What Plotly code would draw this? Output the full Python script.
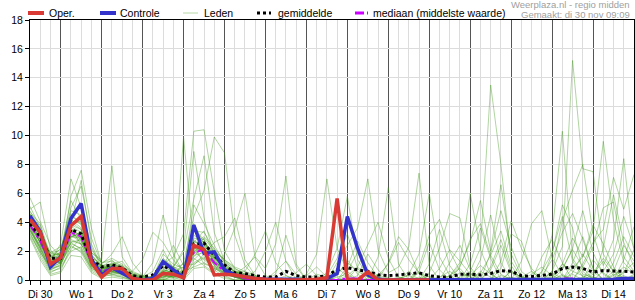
import plotly.graph_objects as go
import pandas as pd

# ---------------- data ----------------
times = pd.date_range("2021-11-30 06:00", periods=60, freq="6h")
x_end = "2021-12-15 00:00"
day_labels = ["Di 30", "Wo 1", "Do 2", "Vr 3", "Za 4", "Zo 5", "Ma 6", "Di 7",
              "Wo 8", "Do 9", "Vr 10", "Za 11", "Zo 12", "Ma 13", "Di 14"]
label_times = pd.date_range("2021-11-30 12:00", periods=15, freq="D")
day_lines = pd.date_range("2021-12-01 00:00", periods=14, freq="D")
grid_6h = [t for t in pd.date_range("2021-11-30 06:00", x_end, freq="6h") if t.hour != 0]

oper = [4.2, 3.3, 1.1, 1.55, 3.75, 4.4, 1.25, 0.2, 0.8, 0.8,
        0.1, 0.0, 0.0, 0.45, 0.4, 0.15, 2.4, 2.1, 0.35, 0.4,
        0.35, 0.23, 0.1, 0.05, 0.0, 0.0, 0.0, 0.0, 0.05, 0.15,
        5.65, 0.0, 0.0, 0.55, 0.0, 0.0, 0.0, 0.0, 0.0, 0.0]

controle = [4.45, 3.35, 0.9, 1.6, 4.25, 5.3, 1.4, 0.35, 0.85, 0.5,
            0.1, 0.0, 0.1, 1.27, 0.7, 0.15, 3.8, 1.85, 1.95, 0.7,
            0.35, 0.2, 0.1, 0.05, 0.05, 0.1, 0.05, 0.0, 0.0, 0.1,
            0.45, 4.4, 2.2, 0.35, 0.05, 0.0, 0.0, 0.0, 0.05, 0.05,
            0.0, 0.0, 0.0, 0.0, 0.0, 0.0, 0.0, 0.0, 0.0, 0.0,
            0.0, 0.05, 0.05, 0.0, 0.0, 0.0, 0.0, 0.05, 0.1, 0.1]

gemiddelde = [3.9, 3.0, 1.5, 1.5, 3.5, 3.2, 1.4, 0.9, 1.05, 0.85,
              0.3, 0.2, 0.35, 1.0, 0.6, 0.5, 2.5, 2.55, 1.7, 1.05,
              0.5, 0.45, 0.3, 0.2, 0.2, 0.6, 0.3, 0.2, 0.2, 0.3,
              0.7, 0.85, 0.7, 0.6, 0.35, 0.3, 0.35, 0.4, 0.5, 0.3,
              0.2, 0.2, 0.4, 0.4, 0.35, 0.45, 0.65, 0.6, 0.3, 0.25,
              0.3, 0.4, 0.8, 0.9, 0.8, 0.55, 0.65, 0.65, 0.6, 0.55]

mediaan = [3.8, 2.7, 1.2, 1.4, 3.3, 3.0, 1.2, 0.6, 0.8, 0.6,
           0.1, 0.0, 0.0, 0.5, 0.4, 0.3, 1.9, 2.1, 1.2, 0.6,
           0.3, 0.1, 0.0, 0.0, 0.0, 0.0, 0.0, 0.0, 0.0, 0.0,
           0.0, 0.1, 0.1, 0.0, 0.0, 0.0, 0.0, 0.0, 0.0, 0.0,
           0.0, 0.0, 0.0, 0.0, 0.0, 0.0, 0.0, 0.0, 0.0, 0.0,
           0.0, 0.0, 0.1, 0.1, 0.0, 0.0, 0.0, 0.0, 0.0, 0.0]

lid_01 = [4.5, 3.0, 1.2, 1.8, 4.6, 3.8, 1.6, 0.6, 1.0, 0.8,
          0.2, 0.0, 0.0, 0.6, 0.3, 0.2, 3.5, 2.8, 1.2, 0.6,
          0.3, 0.2, 0.1, 0.0, 0.0, 0.3, 0.0, 0.0, 0.0, 0.1,
          0.4, 1.2, 0.6, 0.2, 0.0, 0.0, 0.1, 0.3, 0.0, 0.0,
          0.0, 0.0, 0.2, 0.5, 0.0, 0.0, 0.3, 0.1, 0.0, 0.0,
          0.0, 0.2, 1.1, 0.6, 0.3, 0.0, 0.0, 0.4, 0.2, 0.0]
lid_02 = [3.6, 2.2, 0.8, 1.2, 2.8, 2.5, 0.9, 0.3, 0.5, 0.4,
          0.0, 0.0, 0.3, 1.5, 0.9, 0.4, 1.8, 2.2, 1.0, 0.4,
          0.2, 0.0, 0.0, 0.0, 0.1, 0.0, 0.0, 0.0, 0.4, 0.2,
          0.0, 0.0, 0.3, 1.8, 0.7, 0.0, 0.0, 0.0, 0.5, 0.2,
          0.0, 0.0, 0.0, 0.0, 0.6, 0.2, 0.0, 0.0, 0.0, 0.4,
          0.9, 0.3, 0.0, 0.0, 0.2, 0.5, 1.5, 0.6, 0.0, 0.0]
lid_03 = [5.7, 4.1, 2.4, 1.6, 3.9, 6.9, 2.5, 0.9, 1.4, 0.6,
          0.3, 0.2, 0.1, 0.4, 0.2, 0.6, 5.2, 3.9, 2.4, 1.2,
          0.5, 0.3, 0.0, 0.0, 0.0, 0.0, 0.2, 0.0, 0.0, 0.0,
          0.0, 0.6, 1.9, 0.5, 0.0, 0.2, 0.0, 0.0, 0.0, 0.3,
          0.0, 0.1, 0.0, 0.0, 0.0, 0.9, 2.8, 0.7, 0.0, 0.0,
          0.0, 0.0, 0.3, 0.0, 0.0, 0.0, 0.0, 0.0, 0.0, 0.4]
lid_04 = [4.0, 2.6, 1.1, 2.0, 5.5, 4.2, 1.8, 0.9, 0.7, 0.5,
          0.1, 0.0, 0.2, 1.1, 1.6, 3.2, 10.3, 10.4, 6.1, 2.0,
          0.8, 0.4, 0.2, 0.0, 0.0, 0.0, 0.0, 0.1, 0.0, 0.0,
          0.8, 0.3, 0.0, 0.0, 0.0, 0.0, 0.0, 0.0, 0.2, 0.0,
          0.0, 0.0, 0.0, 0.3, 1.0, 0.4, 0.0, 0.0, 0.0, 0.0,
          0.0, 0.5, 0.1, 0.0, 0.0, 0.2, 0.0, 0.0, 0.0, 0.3]
lid_05 = [3.3, 1.8, 0.5, 0.9, 2.1, 3.0, 1.2, 0.4, 0.3, 0.2,
          0.0, 0.0, 0.0, 0.2, 0.5, 9.9, 2.4, 1.1, 0.9, 0.3,
          0.0, 0.0, 0.0, 0.0, 0.6, 1.3, 0.4, 0.0, 0.0, 0.0,
          0.0, 0.0, 0.0, 0.0, 0.4, 0.0, 0.0, 0.6, 0.0, 0.0,
          0.0, 0.3, 0.8, 0.0, 0.0, 0.0, 0.0, 0.0, 0.0, 0.0,
          0.0, 0.3, 0.8, 2.1, 0.9, 0.0, 0.0, 0.0, 0.6, 1.2]
lid_06 = [4.8, 3.5, 1.6, 1.1, 3.0, 3.3, 1.0, 0.7, 1.1, 1.3,
          0.4, 0.1, 0.0, 0.0, 0.3, 1.2, 4.4, 6.2, 9.9, 8.8,
          3.1, 1.0, 0.2, 0.0, 0.0, 0.0, 0.0, 0.0, 0.0, 0.0,
          0.0, 0.0, 0.0, 0.7, 0.2, 0.0, 0.0, 0.0, 0.0, 0.0,
          0.0, 0.0, 0.5, 0.2, 0.0, 0.0, 0.0, 0.6, 0.2, 0.0,
          0.0, 0.0, 0.0, 0.0, 0.0, 0.0, 0.0, 0.3, 0.9, 0.4]
lid_07 = [3.9, 2.9, 1.9, 2.3, 3.6, 2.4, 1.9, 1.4, 7.9, 1.6,
          0.5, 0.2, 0.6, 2.1, 0.8, 0.3, 1.2, 1.6, 0.7, 0.2,
          0.0, 0.0, 0.0, 0.0, 0.0, 0.0, 0.0, 0.3, 0.9, 0.2,
          0.0, 0.0, 0.0, 0.0, 0.0, 0.0, 0.0, 0.0, 0.0, 0.0,
          0.2, 0.6, 0.1, 0.0, 0.0, 0.0, 0.0, 0.0, 0.2, 0.6,
          0.0, 0.0, 0.0, 0.0, 0.0, 1.4, 0.5, 0.0, 0.0, 0.0]
lid_08 = [4.3, 3.8, 1.4, 1.3, 5.8, 7.6, 3.6, 1.1, 0.6, 0.4,
          0.1, 0.0, 0.0, 0.4, 0.6, 0.2, 2.0, 1.4, 0.8, 0.5,
          0.2, 0.1, 0.0, 0.0, 0.0, 0.0, 0.0, 0.0, 0.0, 0.0,
          0.2, 0.4, 0.0, 0.0, 0.0, 0.0, 0.0, 0.0, 0.0, 0.0,
          0.0, 0.0, 0.0, 0.0, 0.0, 0.0, 0.0, 0.2, 0.0, 0.0,
          0.0, 0.6, 2.3, 15.2, 7.7, 7.5, 1.8, 0.6, 0.3, 0.0]
lid_09 = [3.7, 2.4, 1.0, 1.5, 3.2, 2.7, 1.3, 0.8, 0.9, 0.9,
          0.3, 0.0, 0.0, 0.8, 0.4, 0.5, 2.6, 3.4, 1.7, 1.0,
          0.4, 0.2, 0.3, 0.0, 0.0, 0.0, 0.0, 0.0, 0.0, 0.0,
          0.3, 1.4, 0.4, 0.0, 0.0, 0.0, 0.0, 0.0, 0.0, 0.0,
          0.0, 0.0, 0.0, 0.6, 2.2, 13.5, 8.0, 1.3, 0.2, 0.0,
          0.0, 0.0, 0.0, 0.4, 0.0, 0.0, 0.0, 0.0, 0.0, 0.0]
lid_10 = [4.1, 2.7, 1.3, 1.7, 2.5, 2.2, 0.8, 0.5, 0.8, 0.6,
          0.2, 0.0, 0.0, 0.0, 0.9, 2.1, 8.9, 4.3, 1.6, 0.7,
          0.4, 0.9, 1.6, 0.8, 2.5, 7.2, 1.1, 0.0, 0.0, 0.0,
          0.0, 0.0, 0.0, 0.0, 0.0, 0.0, 0.2, 0.0, 0.0, 0.0,
          0.0, 0.0, 0.0, 0.0, 0.0, 0.0, 0.0, 0.0, 0.0, 0.0,
          0.5, 3.1, 10.3, 1.5, 0.4, 0.2, 0.0, 0.0, 0.0, 0.0]
lid_11 = [3.5, 2.0, 0.7, 1.0, 3.8, 3.5, 1.1, 0.6, 0.4, 0.3,
          0.0, 0.0, 0.0, 0.3, 0.2, 0.6, 3.1, 2.6, 1.4, 0.6,
          0.3, 0.1, 0.0, 0.0, 0.0, 0.0, 0.0, 0.4, 1.8, 7.0,
          2.2, 0.6, 0.0, 0.0, 0.0, 0.0, 0.0, 0.0, 0.0, 0.0,
          0.0, 0.0, 0.0, 0.0, 0.0, 0.0, 0.0, 0.0, 0.0, 0.0,
          0.0, 0.0, 0.0, 0.8, 1.6, 3.4, 9.6, 4.1, 1.2, 0.5]
lid_12 = [4.6, 3.2, 1.7, 1.9, 4.1, 3.9, 1.5, 0.7, 1.2, 1.0,
          0.5, 0.3, 0.2, 1.8, 1.1, 0.8, 2.2, 2.9, 2.0, 1.4,
          0.9, 0.6, 0.3, 0.0, 0.0, 0.0, 0.0, 0.0, 0.0, 0.0,
          1.2, 2.4, 3.6, 7.0, 2.1, 0.5, 0.9, 2.3, 7.4, 1.0,
          0.0, 0.0, 0.0, 0.0, 0.0, 0.0, 0.0, 0.0, 0.0, 0.0,
          0.0, 0.0, 0.4, 0.0, 0.0, 0.0, 0.0, 0.0, 0.0, 0.0]
lid_13 = [3.0, 1.6, 0.4, 0.6, 2.4, 1.9, 0.6, 0.2, 0.4, 0.2,
          0.0, 0.2, 1.2, 4.5, 1.8, 0.5, 1.5, 1.0, 0.5, 1.8,
          3.6, 6.0, 1.5, 0.3, 0.0, 0.0, 0.0, 0.0, 0.0, 0.0,
          0.0, 0.0, 0.0, 0.0, 1.6, 6.4, 1.1, 0.0, 0.0, 0.0,
          0.0, 0.0, 0.0, 0.0, 0.0, 0.0, 0.0, 0.6, 0.2, 0.0,
          0.0, 0.0, 0.0, 0.0, 0.0, 0.0, 0.0, 0.0, 0.0, 0.0]
lid_14 = [4.4, 2.5, 1.0, 1.4, 3.1, 2.6, 1.7, 1.0, 0.6, 0.8,
          0.2, 0.0, 0.0, 0.2, 0.6, 0.9, 1.9, 2.2, 1.3, 0.8,
          0.3, 0.0, 0.0, 0.0, 0.0, 0.0, 0.0, 0.0, 0.0, 0.0,
          0.0, 0.3, 0.9, 0.2, 0.0, 0.0, 0.0, 0.4, 1.8, 6.0,
          1.6, 0.3, 1.2, 6.0, 2.1, 0.4, 0.0, 0.0, 0.0, 0.0,
          0.0, 0.0, 0.0, 0.0, 0.0, 0.0, 0.0, 0.0, 0.0, 0.0]
lid_15 = [3.8, 2.8, 1.3, 1.2, 2.9, 3.4, 1.2, 0.5, 0.7, 0.6,
          0.1, 0.0, 0.0, 0.5, 0.3, 0.2, 2.3, 1.9, 1.1, 0.6,
          0.2, 0.0, 0.0, 0.0, 0.0, 0.0, 0.0, 0.0, 0.0, 0.0,
          0.0, 0.0, 0.0, 0.0, 0.0, 0.0, 0.0, 0.0, 0.0, 0.0,
          0.0, 0.3, 1.0, 2.6, 5.5, 2.0, 6.6, 1.8, 0.3, 0.0,
          0.0, 0.0, 0.0, 0.5, 1.8, 0.6, 0.0, 0.0, 0.0, 0.0]
lid_16 = [4.2, 3.1, 1.5, 1.6, 3.5, 2.9, 1.3, 0.8, 1.0, 0.7,
          0.2, 0.1, 0.0, 1.0, 0.7, 0.4, 2.8, 2.0, 1.2, 0.7,
          0.4, 0.2, 0.0, 0.0, 0.0, 0.0, 0.0, 0.0, 0.0, 0.0,
          0.0, 0.0, 0.0, 0.0, 0.0, 0.0, 0.0, 0.0, 0.0, 0.5,
          2.2, 4.6, 4.3, 0.9, 0.0, 0.0, 0.0, 0.0, 1.3, 3.9,
          4.8, 1.5, 0.3, 0.0, 0.0, 0.0, 0.0, 0.6, 2.4, 1.3]
lid_17 = [3.4, 2.3, 0.9, 1.5, 3.3, 2.8, 1.0, 0.4, 0.6, 0.5,
          0.0, 0.0, 0.0, 0.4, 0.3, 0.4, 1.6, 2.4, 1.5, 0.9,
          0.5, 0.3, 0.1, 0.0, 0.0, 0.0, 0.0, 0.0, 0.0, 0.0,
          0.0, 0.0, 0.0, 0.0, 0.0, 0.0, 0.0, 0.0, 0.0, 0.0,
          0.0, 0.0, 0.0, 0.0, 0.0, 0.0, 0.0, 0.0, 0.0, 0.0,
          0.0, 0.0, 0.0, 0.0, 1.1, 2.6, 3.5, 7.1, 4.9, 7.3]
lid_18 = [4.0, 3.3, 1.8, 2.1, 4.8, 4.5, 2.1, 1.2, 1.5, 1.1,
          0.6, 0.3, 0.0, 0.0, 0.0, 0.3, 3.9, 2.5, 1.9, 1.1,
          0.6, 0.4, 0.2, 0.0, 0.0, 0.0, 0.0, 0.0, 0.0, 0.0,
          0.0, 0.0, 0.0, 0.0, 0.0, 0.0, 0.0, 0.0, 0.0, 0.0,
          0.0, 0.0, 0.0, 0.0, 1.4, 4.5, 1.2, 0.0, 0.0, 0.0,
          0.0, 0.6, 4.1, 6.2, 8.0, 3.2, 1.0, 2.8, 8.4, 1.9]
lid_19 = [3.8, 2.6, 1.1, 1.3, 3.0, 3.2, 1.4, 0.6, 0.8, 0.7,
          0.2, 0.0, 0.0, 0.7, 0.5, 0.3, 2.2, 2.7, 1.6, 0.8,
          0.4, 0.1, 0.0, 0.0, 0.4, 3.1, 0.9, 0.0, 0.0, 0.5,
          2.2, 5.8, 1.4, 0.3, 0.0, 0.0, 0.0, 0.0, 0.0, 0.0,
          0.0, 0.0, 0.0, 0.0, 0.0, 0.0, 0.0, 0.0, 0.0, 0.0,
          0.0, 0.0, 0.0, 0.0, 0.0, 0.0, 0.0, 0.0, 0.0, 0.0]
lid_20 = [5.1, 3.6, 1.3, 2.5, 7.0, 5.0, 2.3, 0.8, 0.9, 0.9,
          0.4, 0.2, 0.1, 0.6, 0.4, 0.1, 1.0, 1.8, 2.6, 3.0,
          4.3, 1.4, 0.3, 0.0, 0.0, 0.0, 0.0, 0.0, 0.0, 0.0,
          0.0, 0.0, 0.9, 2.5, 4.0, 1.5, 0.2, 0.0, 0.0, 0.0,
          0.0, 0.0, 0.0, 0.0, 0.0, 0.0, 0.0, 0.0, 0.0, 0.0,
          0.0, 0.0, 0.0, 0.0, 0.0, 0.0, 0.0, 0.0, 0.0, 0.0]
lid_21 = [4.9, 5.4, 2.1, 1.1, 2.6, 2.1, 0.7, 0.3, 0.5, 0.4,
          0.6, 1.4, 3.3, 2.6, 1.4, 0.6, 0.9, 1.2, 0.8, 0.4,
          0.2, 0.0, 0.0, 0.0, 0.0, 0.0, 0.0, 0.0, 0.0, 0.0,
          0.0, 0.0, 0.0, 0.0, 0.0, 0.0, 0.0, 0.0, 0.0, 0.0,
          0.0, 0.0, 0.0, 0.0, 0.0, 0.0, 0.8, 3.2, 2.7, 0.6,
          0.0, 0.0, 0.0, 0.0, 0.0, 0.0, 0.0, 0.0, 0.0, 0.0]
lid_22 = [3.2, 2.0, 0.6, 0.8, 2.0, 2.3, 0.9, 0.6, 0.9, 0.5,
          0.1, 0.0, 0.0, 0.1, 0.9, 1.9, 5.6, 8.6, 3.3, 1.3,
          0.6, 0.2, 0.6, 2.0, 4.0, 1.3, 0.0, 0.0, 0.0, 0.0,
          0.0, 0.0, 0.0, 0.0, 0.0, 0.0, 0.0, 0.0, 0.0, 1.1,
          3.5, 1.0, 0.0, 0.0, 0.0, 0.0, 0.0, 0.0, 0.0, 0.0,
          0.0, 0.0, 0.0, 0.0, 0.0, 0.4, 1.3, 0.3, 0.0, 0.0]
lid_23 = [4.7, 3.9, 1.6, 1.9, 5.0, 6.5, 2.9, 1.1, 1.8, 3.0,
          1.2, 0.3, 0.0, 0.3, 0.2, 0.1, 1.4, 2.1, 1.8, 1.0,
          0.6, 0.3, 0.0, 0.0, 0.0, 0.0, 0.0, 0.0, 0.0, 0.0,
          0.0, 0.0, 0.0, 0.0, 0.0, 0.0, 0.0, 0.0, 0.0, 0.0,
          0.0, 0.0, 0.0, 0.0, 0.0, 0.7, 2.4, 0.5, 0.0, 0.0,
          0.0, 1.8, 5.2, 3.6, 0.6, 0.0, 0.0, 0.0, 0.0, 0.0]
lid_24 = [2.9, 1.4, 0.3, 0.5, 1.7, 1.6, 0.5, 0.1, 0.2, 0.1,
          0.0, 0.0, 0.0, 0.0, 0.1, 0.0, 0.8, 0.9, 0.4, 0.1,
          0.0, 0.0, 0.0, 0.0, 0.0, 0.0, 0.0, 0.0, 0.0, 0.0,
          0.0, 0.0, 0.0, 0.0, 0.0, 1.2, 3.0, 2.1, 0.4, 0.0,
          0.0, 0.0, 0.0, 0.0, 0.0, 0.0, 0.0, 0.0, 0.0, 0.0,
          0.0, 0.0, 0.0, 0.0, 0.9, 2.3, 5.0, 5.4, 1.6, 0.6]
lid_25 = [4.3, 2.9, 1.4, 1.4, 3.4, 3.1, 1.6, 1.0, 1.1, 0.9,
          0.3, 0.1, 0.0, 0.6, 0.8, 1.1, 2.4, 2.0, 1.0, 0.5,
          0.2, 0.0, 0.0, 0.0, 0.0, 0.0, 0.5, 1.1, 0.3, 0.0,
          0.0, 0.0, 0.0, 0.0, 0.0, 0.0, 0.0, 0.0, 0.0, 0.0,
          0.8, 2.1, 1.3, 0.4, 0.0, 0.0, 0.0, 0.0, 0.0, 0.0,
          1.6, 2.8, 1.2, 0.0, 0.0, 0.0, 0.0, 0.0, 1.4, 3.7]
lid_26 = [3.6, 2.1, 0.7, 1.1, 2.7, 2.5, 1.1, 0.5, 0.6, 0.4,
          0.0, 0.0, 0.0, 0.3, 0.2, 0.3, 2.0, 2.3, 1.3, 0.7,
          0.3, 0.0, 0.0, 0.0, 0.0, 0.0, 0.0, 0.0, 0.0, 0.0,
          0.0, 0.0, 0.0, 0.0, 0.0, 0.0, 0.0, 0.0, 0.0, 0.0,
          0.0, 0.0, 0.0, 0.0, 0.5, 1.7, 3.4, 1.0, 0.0, 0.0,
          0.0, 0.0, 0.7, 2.2, 4.8, 1.9, 0.4, 0.0, 0.0, 0.0]
lid_27 = [4.4, 3.4, 1.9, 1.7, 4.2, 3.6, 1.4, 0.9, 1.0, 0.7,
          0.2, 0.0, 0.0, 1.4, 0.9, 0.6, 2.5, 3.0, 2.2, 1.4,
          0.8, 0.4, 0.2, 0.0, 0.0, 0.0, 0.0, 0.0, 0.0, 0.0,
          0.0, 0.0, 0.0, 0.0, 0.0, 0.0, 0.0, 0.0, 0.6, 2.6,
          0.7, 0.0, 0.0, 0.0, 0.0, 0.0, 0.0, 0.0, 0.0, 0.0,
          0.0, 0.0, 0.0, 0.0, 0.0, 0.0, 0.6, 1.8, 4.4, 2.2]
lid_28 = [3.1, 1.9, 0.9, 1.2, 2.3, 2.0, 0.8, 0.4, 0.5, 0.6,
          0.1, 0.0, 0.3, 0.9, 2.4, 1.0, 1.1, 1.5, 0.9, 0.5,
          0.3, 0.1, 0.0, 0.0, 0.0, 0.0, 0.0, 0.0, 0.0, 0.0,
          0.0, 0.0, 0.0, 0.0, 0.0, 0.0, 0.0, 0.0, 0.0, 0.0,
          0.0, 0.0, 0.0, 0.0, 0.0, 0.0, 0.0, 0.0, 0.0, 0.0,
          0.0, 0.0, 0.0, 1.2, 3.0, 0.8, 0.0, 0.0, 0.0, 0.0]
lid_29 = [4.6, 3.1, 1.5, 2.2, 4.4, 4.0, 1.9, 1.2, 1.3, 1.0,
          0.4, 0.2, 0.0, 0.0, 0.3, 0.7, 3.4, 3.3, 2.1, 1.3,
          0.7, 0.3, 0.0, 0.0, 0.0, 0.0, 0.0, 0.0, 0.0, 0.0,
          0.0, 0.0, 0.0, 0.0, 0.0, 0.0, 0.0, 0.0, 0.0, 0.0,
          0.0, 0.0, 0.0, 1.1, 3.6, 1.5, 0.0, 0.0, 0.0, 0.0,
          0.0, 0.0, 0.0, 0.0, 0.0, 0.0, 0.0, 0.0, 0.0, 0.0]
lid_30 = [3.9, 2.5, 1.2, 1.4, 3.6, 3.0, 1.2, 0.6, 0.8, 0.6,
          0.1, 0.0, 0.0, 0.5, 0.4, 0.4, 2.1, 2.6, 1.7, 0.9,
          0.4, 0.1, 0.0, 0.0, 0.0, 0.0, 0.0, 0.0, 0.0, 0.0,
          0.0, 0.0, 0.0, 0.0, 0.0, 0.0, 0.0, 0.0, 0.0, 0.0,
          0.0, 0.0, 0.0, 0.0, 0.0, 0.0, 0.0, 0.0, 0.0, 0.0,
          0.0, 0.0, 0.0, 0.0, 0.0, 0.0, 0.0, 0.0, 0.0, 0.0]
lid_31 = [4.2, 2.8, 1.0, 1.3, 3.7, 3.3, 1.3, 0.7, 0.9, 0.8,
          0.2, 0.0, 0.0, 0.7, 0.5, 0.6, 2.7, 2.2, 1.4, 0.8,
          0.5, 0.6, 1.8, 3.4, 1.2, 0.3, 0.0, 0.0, 0.0, 0.0,
          0.0, 0.0, 0.0, 0.0, 0.3, 1.1, 2.6, 1.4, 0.5, 0.0,
          0.0, 0.0, 0.9, 2.8, 3.9, 1.7, 0.4, 0.0, 0.0, 0.0,
          0.0, 0.0, 0.0, 0.0, 0.0, 0.0, 0.0, 0.0, 0.0, 0.0]
lid_32 = [3.5, 2.4, 1.3, 1.6, 3.0, 2.9, 1.5, 0.8, 0.7, 0.5,
          0.1, 0.0, 0.0, 0.9, 0.6, 0.3, 2.0, 2.4, 1.5, 1.0,
          0.6, 0.3, 0.0, 0.0, 0.0, 0.0, 0.0, 0.0, 0.0, 0.0,
          0.0, 0.0, 0.0, 0.0, 0.0, 0.0, 0.0, 0.0, 0.9, 3.1,
          4.2, 2.0, 0.6, 0.0, 0.0, 0.0, 0.0, 0.0, 0.0, 0.0,
          0.0, 0.0, 1.1, 2.9, 1.6, 3.8, 2.5, 0.9, 0.0, 0.0]
lid_33 = [4.0, 3.2, 1.7, 1.8, 4.0, 3.5, 1.3, 0.6, 1.0, 0.9,
          0.3, 0.0, 0.0, 0.4, 0.3, 0.5, 2.9, 2.8, 1.5, 0.8,
          0.3, 0.0, 0.0, 0.0, 0.0, 0.0, 0.0, 0.0, 0.0, 0.0,
          0.0, 0.9, 2.7, 1.2, 0.2, 0.0, 0.0, 0.0, 0.0, 0.0,
          0.0, 0.0, 0.0, 0.0, 0.0, 0.0, 1.3, 4.1, 2.2, 0.8,
          0.0, 0.0, 0.0, 0.0, 0.0, 0.0, 2.2, 5.9, 2.6, 0.9]
lid_34 = [3.4, 2.2, 0.8, 1.0, 2.6, 2.8, 1.0, 0.5, 0.6, 0.5,
          0.0, 0.0, 0.0, 0.2, 0.2, 0.3, 1.7, 1.9, 1.1, 0.5,
          0.2, 0.0, 0.0, 0.0, 0.0, 0.0, 0.0, 0.0, 0.0, 0.3,
          1.5, 3.2, 0.8, 0.0, 0.0, 0.0, 0.0, 0.0, 0.0, 0.0,
          0.0, 1.2, 2.4, 0.7, 0.0, 0.0, 0.0, 0.0, 0.0, 0.0,
          0.6, 1.9, 4.4, 1.3, 0.2, 0.0, 0.0, 0.0, 0.5, 2.1]
lid_35 = [4.5, 3.5, 1.6, 1.7, 3.9, 4.1, 1.7, 0.9, 1.1, 0.9,
          0.3, 0.1, 0.0, 0.6, 0.5, 0.4, 2.2, 2.1, 1.3, 0.7,
          0.4, 0.1, 0.0, 0.0, 0.0, 0.0, 0.0, 0.0, 0.0, 0.0,
          0.0, 0.0, 0.0, 0.0, 0.0, 0.0, 0.0, 0.0, 0.0, 0.0,
          0.0, 0.0, 0.0, 0.0, 0.0, 1.9, 4.8, 2.3, 0.6, 0.0,
          0.0, 0.0, 0.0, 0.0, 0.0, 0.0, 0.0, 0.0, 0.0, 0.0]
lid_36 = [3.7, 2.6, 1.1, 1.4, 3.2, 2.9, 1.1, 0.6, 0.8, 0.6,
          0.1, 0.0, 0.0, 0.5, 0.4, 0.3, 2.3, 2.5, 1.6, 0.9,
          0.4, 0.2, 0.0, 0.0, 0.0, 0.0, 0.0, 0.0, 0.0, 0.0,
          0.0, 0.0, 0.0, 0.0, 0.0, 0.0, 0.0, 0.0, 0.0, 0.0,
          0.0, 0.0, 0.0, 0.0, 0.0, 0.0, 0.0, 0.0, 0.0, 0.0,
          0.3, 1.4, 3.3, 4.6, 2.8, 0.8, 0.0, 1.2, 3.0, 1.6]

leden = [lid_01, lid_02, lid_03, lid_04, lid_05, lid_06, lid_07, lid_08, lid_09, lid_10,
         lid_11, lid_12, lid_13, lid_14, lid_15, lid_16, lid_17, lid_18, lid_19, lid_20,
         lid_21, lid_22, lid_23, lid_24, lid_25, lid_26, lid_27, lid_28, lid_29, lid_30,
         lid_31, lid_32, lid_33, lid_34, lid_35, lid_36]

# ---------------- styling ----------------
W, H = 635, 300
L, R, T, B = 30, 1, 20, 20
PW, PH = W - L - R, H - T - B
FONT = "Liberation Sans, Arial, sans-serif"
RED = "#d93a34"
BLUE = "#3333cc"
GREEN = "rgba(60,150,20,0.40)"
MAGENTA = "#cc00ff"


def px(x):
    return (x - L) / PW


def py(y):
    return (H - B - y) / PH


fig = go.Figure()

for m in leden:
    fig.add_trace(go.Scatter(x=times[:len(m)], y=m, mode="lines",
                             line=dict(color=GREEN, width=1),
                             hoverinfo="skip", showlegend=False))

fig.add_trace(go.Scatter(x=times[:len(mediaan)], y=mediaan, mode="lines",
                         line=dict(color=MAGENTA, width=2, dash="dashdot"),
                         showlegend=False))
fig.add_trace(go.Scatter(x=times[:len(gemiddelde)], y=gemiddelde, mode="lines",
                         line=dict(color="black", width=3, dash="dot"),
                         showlegend=False))
fig.add_trace(go.Scatter(x=times[:len(controle)], y=controle, mode="lines",
                         line=dict(color=BLUE, width=3.5),
                         showlegend=False))
fig.add_trace(go.Scatter(x=times[:len(oper)], y=oper, mode="lines",
                         line=dict(color=RED, width=3.5),
                         showlegend=False))
# carrier for the day-label axis
fig.add_trace(go.Scatter(x=[label_times[0]], y=[0], xaxis="x2", mode="markers",
                         marker=dict(opacity=0), hoverinfo="skip", showlegend=False))

# ---------------- manual legend ----------------
legend_items = [
    ("Oper.", 28, 44, 47, dict(color=RED, width=4)),
    ("Controle", 100, 116, 118, dict(color=BLUE, width=4)),
    ("Leden", 183, 198, 202, dict(color="#b5d8a4", width=1)),
    ("gemiddelde", 257, 271, 276, dict(color="black", width=3, dash="dot")),
    ("mediaan (middelste waarde)", 355, 368, 371, dict(color=MAGENTA, width=3, dash="dashdot")),
]
shapes = []
annotations = []
for text, x0, x1, xt, ln in legend_items:
    shapes.append(dict(type="line", xref="paper", yref="paper",
                       x0=px(x0), x1=px(x1), y0=py(13), y1=py(13), line=ln))
    annotations.append(dict(text=text, xref="paper", yref="paper", x=px(xt), y=py(13),
                            xanchor="left", yanchor="middle", showarrow=False,
                            font=dict(family=FONT, size=10.5, color="black")))

annotations.append(dict(text="Weerplaza.nl - regio midden", xref="paper", yref="paper",
                        x=px(632), y=py(4), xanchor="right", yanchor="middle",
                        showarrow=False, font=dict(family=FONT, size=9.5, color="#a0a0a0")))
annotations.append(dict(text="Gemaakt: di 30 nov 09:09", xref="paper", yref="paper",
                        x=px(632), y=py(14.5), xanchor="right", yanchor="middle",
                        showarrow=False, font=dict(family=FONT, size=9.5, color="#a0a0a0")))

fig.update_layout(
    width=W, height=H,
    margin=dict(l=L, r=R, t=T, b=B, pad=0),
    paper_bgcolor="white", plot_bgcolor="white",
    font=dict(family=FONT, size=10.5, color="black"),
    showlegend=False,
    shapes=shapes,
    annotations=annotations,
    xaxis=dict(
        type="date", range=[times[0], x_end],
        tickmode="array", tickvals=list(day_lines), showticklabels=False,
        showgrid=True, gridcolor="#555555", gridwidth=1,
        ticks="outside", ticklen=4, tickcolor="black",
        showline=True, linecolor="black", linewidth=1, mirror=True,
        zeroline=False,
        minor=dict(tickmode="array", tickvals=grid_6h, showgrid=True,
                   gridcolor="#dcdcdc", gridwidth=1,
                   ticks="outside", ticklen=4, tickcolor="black"),
    ),
    xaxis2=dict(
        type="date", range=[times[0], x_end], overlaying="x", side="bottom",
        anchor="y", tickmode="array", tickvals=list(label_times), ticktext=day_labels,
        showgrid=False, showline=False, zeroline=False,
        ticks="outside", ticklen=4, tickcolor="rgba(0,0,0,0)",
        tickfont=dict(family=FONT, size=10.5, color="black"),
    ),
    yaxis=dict(
        range=[0, 18], tickmode="linear", tick0=0, dtick=2,
        showgrid=True, gridcolor="#dcdcdc", gridwidth=1,
        ticks="outside", ticklen=4, tickcolor="black",
        showline=True, linecolor="black", linewidth=1, mirror=True,
        zeroline=False,
        tickfont=dict(family=FONT, size=10.5, color="black"),
    ),
)

fig.write_html("out.html")
